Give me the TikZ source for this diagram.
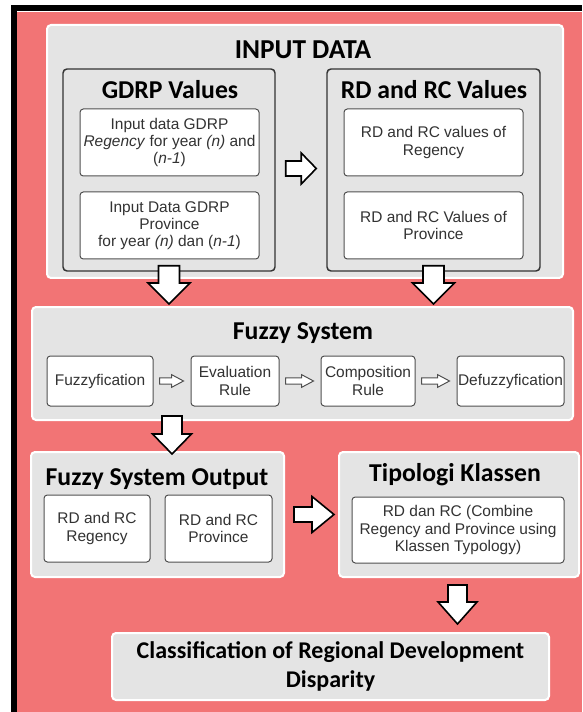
\documentclass[tikz,border=0pt]{standalone}
\usepackage{fontspec}
\setmainfont{Liberation Sans}
\newfontfamily\headfont{Carlito}
\usetikzlibrary{calc}

\definecolor{bgred}{RGB}{242,116,117}
\definecolor{panelgray}{RGB}{228,228,228}
\definecolor{boxline}{RGB}{80,80,80}
\definecolor{txtgray}{RGB}{50,50,50}

\tikzset{every picture/.style={line width=0.75pt}}
\tikzset{
  panel/.style={draw=white, line width=1.5pt, fill=panelgray, rounded corners=3pt, inner sep=0pt},
  group/.style={draw=black!80, line width=1.1pt, fill=panelgray, rounded corners=3pt, inner sep=0pt},
  item/.style={draw=boxline, fill=white, rounded corners=2.5pt, align=center, inner sep=0pt,
    font=\fontsize{11.6}{12.9}\selectfont, text=txtgray},
  head/.style={font=\headfont\bfseries\fontsize{19.3}{21.75}\selectfont, align=center, inner sep=0pt},
  fatarrow/.style={draw=black, fill=white, line width=1.2pt, line join=miter},
}

% block arrow: [style] shaft half width, head half width, head length, from, to
\newcommand{\fatarrow}[6][]{%
  \path (#5) coordinate (fa-s) (#6) coordinate (fa-e);
  \coordinate (fa-h) at ($(fa-e)!#4!(fa-s)$);
  \draw[fatarrow,#1] ($(fa-s)!#2!90:(fa-e)$) -- ($(fa-h)!#2!90:(fa-e)$) -- ($(fa-h)!#3!90:(fa-e)$)
    -- (fa-e) -- ($(fa-h)!#3!-90:(fa-e)$) -- ($(fa-h)!#2!-90:(fa-e)$) -- ($(fa-s)!#2!-90:(fa-e)$) -- cycle;
}

\begin{document}
\begin{tikzpicture}[x=0.75pt,y=0.75pt,yscale=-1,xscale=1]
\useasboundingbox (0,0) rectangle (582,712);

%Background frame
\fill[bgred] (16,12) rectangle (582,712);
\draw[line width=4.5pt] (13.5,712) -- (13.5,8.5) -- (582,8.5);

%Input data
\node[panel, minimum width=387pt, minimum height=189.75pt] (input) at (305,151.5) {};
\node[head, font=\headfont\bfseries\fontsize{20.5}{24}\selectfont] (inputtitle) at (303,50) {INPUT DATA};

\node[group, minimum width=159pt, minimum height=151.5pt] (gdrp) at (169,170) {};
\node[head] (gdrptitle) at (170,90) {GDRP Values};
\node[item, minimum width=134.25pt, minimum height=50.25pt] (g1) at (169.5,142.5)
  {Input data GDRP\\ \textit{Regency} for year \textit{(n)} and\\ (\textit{n-1})};
\node[item, minimum width=134.25pt, minimum height=50.25pt] (g2) at (169.5,225.5)
  {Input Data GDRP\\ Province\\ for year \textit{(n)} dan (\textit{n-1})};

\node[group, minimum width=159.75pt, minimum height=151.5pt] (rdrc) at (433.5,170) {};
\node[head] (rdrctitle) at (434,90) {RD and RC Values};
\node[item, minimum width=134.25pt, minimum height=50.25pt] (r1) at (433.5,142.5)
  {RD and RC values of\\ Regency};
\node[item, minimum width=134.25pt, minimum height=50.25pt] (r2) at (433.5,225.5)
  {RD and RC Values of\\ Province};

\fatarrow{5.6pt}{11.6pt}{11.25pt}{$(gdrp.east)+(10,-1.5)$}{$(rdrc.west)+(-10,-1.5)$}

%Fuzzy system
\node[panel, minimum width=405.75pt, minimum height=84.75pt] (fuzzy) at (302.5,363.5) {};
\node[head] (fuzzytitle) at (303,333) {Fuzzy System};
\node[item, minimum width=79.5pt, minimum height=37.5pt] (fzf) at (100,381) {Fuzzyfication};
\node[item, minimum width=66pt, minimum height=37.5pt] (evr) at (235,381) {Evaluation\\ Rule};
\node[item, minimum width=70.5pt, minimum height=37.5pt] (cmp) at (368,381) {Composition\\ Rule};
\node[item, minimum width=80.25pt, minimum height=37.5pt] (dfz) at (510.5,381) {Defuzzyfication};

\foreach \a/\b in {fzf/evr, evr/cmp, cmp/dfz}
  \fatarrow[line width=0.75pt, draw=boxline]{2.4pt}{4.8pt}{9pt}{$(\a.east)+(6,0)$}{$(\b.west)+(-7,0)$};

\fatarrow{7.9pt}{15.75pt}{15.75pt}{$(gdrp.south)+(0,-6)$}{$(gdrp.south |- fuzzy.north)+(0,-2)$}
\fatarrow{7.9pt}{15.75pt}{15.75pt}{$(rdrc.south)+(0,-6)$}{$(rdrc.south |- fuzzy.north)+(0,-2)$}

%Fuzzy system output
\node[panel, minimum width=189.75pt, minimum height=93.75pt] (fsout) at (157.5,514.5) {};
\node[head] (fsouttitle) at (157,479) {Fuzzy System Output};
\node[item, minimum width=79.5pt, minimum height=50.25pt] (out1) at (97,528.5) {RD and RC\\ Regency};
\node[item, minimum width=80.25pt, minimum height=50.25pt] (out2) at (218.5,528.5) {RD and RC\\ Province};

\fatarrow{7.5pt}{14.6pt}{15pt}{$(gdrp.south |- fuzzy.south)+(3,-5)$}{$(gdrp.south |- fsout.north)+(3,3)$}

%Tipologi Klassen
\node[panel, minimum width=180pt, minimum height=93.75pt] (tipo) at (459,514.5) {};
\node[head] (tipotitle) at (455,475) {Tipologi Klassen};
\node[item, minimum width=159pt, minimum height=49.5pt] (tk1) at (458,530)
  {RD dan RC (Combine\\ Regency and Province using\\ Klassen Typology)};

\fatarrow{5.6pt}{13.5pt}{16.5pt}{$(fsout.east)+(9,0)$}{$(tipo.west)+(-4,0)$}

%Classification
\node[panel, head, font=\headfont\bfseries\fontsize{18}{21.75}\selectfont, minimum width=327.75pt, minimum height=50.25pt] (klass) at (330.5,666.5)
  {Classification of Regional Development\\ Disparity};

\fatarrow{7.1pt}{14.6pt}{16.5pt}{$(tipo.south)+(-1.5,7)$}{$(tipo.south |- klass.north)+(-1.5,-8)$}

\end{tikzpicture}
\end{document}
